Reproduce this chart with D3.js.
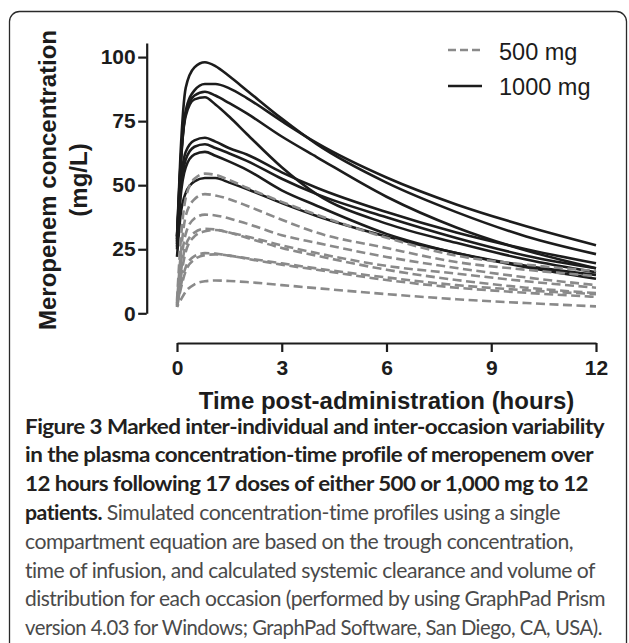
<!DOCTYPE html>
<html>
<head>
<meta charset="utf-8">
<script src="https://cdn.jsdelivr.net/npm/d3@7"></script>
<style>
  html, body { margin: 0; padding: 0; background: #fff; }
  svg { display: block; }
</style>
</head>
<body>
<svg id="chart" width="629" height="643"></svg>
<script>
// ---------- data ----------
const times = [0, 0.1, 0.25, 0.5, 0.8, 1.1, 1.5, 2, 3, 4, 6, 8, 10, 12];

// 1000 mg occasions (solid black), concentration in mg/L at each time
const conc1000 = [
  [30, 62, 88, 96, 98, 96.5, 92.5, 87, 76, 66, 51, 39.5, 30, 23.1],
  [28, 56, 79, 87, 89.5, 89.5, 87.8, 84, 75, 66.5, 53, 42.5, 34, 26.6],
  [29, 58, 78, 85, 86.5, 85, 82, 78, 69, 61, 45.5, 33.5, 24.5, 17.6],
  [27, 57, 77, 83.5, 84.3, 81.5, 76.7, 70, 57, 46.5, 35, 27.5, 21, 16],
  [30, 50, 63, 67.5, 68.5, 67, 64.4, 62, 55, 49, 39.5, 31.5, 25, 19.5],
  [26, 47, 60, 65, 66, 64.5, 62.4, 59.5, 52.5, 46.5, 37.5, 29.4, 22.5, 17.6],
  [25, 45, 57, 62, 63, 61.5, 59.2, 56, 48, 42, 31, 23.5, 18, 13.5],
  [22, 38, 47, 51.5, 52.8, 52.8, 51, 48.5, 43, 38, 30, 23.5, 18.5, 15]
];

// 500 mg occasions (dashed grey)
const conc500 = [
  [5, 27, 45, 52.5, 54.5, 54, 52, 49, 43.5, 38.5, 29.5, 22.5, 19, 16.5],
  [4, 22, 38, 44.5, 46.5, 46, 44.5, 42, 36.5, 31.5, 25.5, 20, 17, 14.5],
  [3.5, 18, 31, 37, 38.5, 38.2, 37, 35, 30.5, 27.5, 22, 17.7, 14, 11],
  [3, 15, 26.5, 31.5, 33, 32.7, 31.5, 30, 26.5, 23.5, 18.5, 15.5, 12.5, 10],
  [3, 13, 24, 30, 32, 32.5, 31.5, 29.5, 25.5, 22.5, 17, 13, 10, 7.9],
  [2.5, 10, 18, 22.3, 23.5, 23.3, 22.5, 21.5, 19.5, 17.5, 14, 11, 9, 7.5],
  [2.5, 9, 16.5, 21, 22.7, 23, 22.5, 21.3, 19, 17, 13, 10, 8, 6.4],
  [2.5, 5, 8.5, 11.3, 12.5, 12.8, 12.6, 12.2, 11, 9.8, 7.5, 5.5, 4, 2.7]
];

const xTicks = [0, 3, 6, 9, 12];
const yTicks = [0, 25, 50, 75, 100];
const legendLabels = ["500 mg", "1000 mg"];
const xTitle = "Time post-administration (hours)";
const yTitle = ["Meropenem concentration", "(mg/L)"];
const captionLines = [
  [["Figure 3 Marked inter-individual and inter-occasion variability", true]],
  [["in the plasma concentration-time profile of meropenem over", true]],
  [["12 hours following 17 doses of either 500 or 1,000 mg to 12", true]],
  [["patients.", true], [" Simulated concentration-time profiles using a single", false]],
  [["compartment equation are based on the trough concentration,", false]],
  [["time of infusion, and calculated systemic clearance and volume of", false]],
  [["distribution for each occasion (performed by using GraphPad Prism", false]],
  [["version 4.03 for Windows; GraphPad Software, San Diego, CA, USA).", false]]
];
const captionWidths = [579, 568, 563, 535, 548, 570, 580, 577];

// ---------- drawing ----------
const svg = d3.select("#chart");
const INK = "#1c1c1c";
const GREY = "#8a8a8a";
const AX_FONT = "'Liberation Sans', Arial, Helvetica, sans-serif";
const CAP_FONT = "Lato, 'Noto Sans', sans-serif";

// frame
svg.append("rect")
  .attr("x", 9.5).attr("y", 11.5)
  .attr("width", 617).attr("height", 720)
  .attr("rx", 10).attr("ry", 10)
  .attr("fill", "none").attr("stroke", "#2a2a2a").attr("stroke-width", 1.3);

const x = d3.scaleLinear().domain([0, 12]).range([177, 596]);
const y = d3.scaleLinear().domain([0, 105.5]).range([313.3, 43]);

const line = d3.line()
  .x((d, i) => x(times[i]))
  .y(d => y(d))
  .curve(d3.curveMonotoneX);

// curves: 1000 mg solid black
svg.append("g").selectAll("path").data(conc1000).join("path")
  .attr("d", d => line(d))
  .attr("fill", "none").attr("stroke", INK)
  .attr("stroke-width", 2.6).attr("stroke-linejoin", "round");

// curves: 500 mg dashed grey
svg.append("g").selectAll("path").data(conc500).join("path")
  .attr("d", d => line(d))
  .attr("fill", "none").attr("stroke", GREY)
  .attr("stroke-width", 2.6)
  .attr("stroke-dasharray", "9,4.5")
  .attr("stroke-dashoffset", (d, i) => (i % 2 ? 6 : 0));

// y axis
const yAxis = svg.append("g")
  .attr("transform", "translate(146.7,0)")
  .call(d3.axisLeft(y).tickValues(yTicks).tickSize(8.5).tickSizeOuter(0).tickPadding(2.5));
// x axis
const xAxis = svg.append("g")
  .attr("transform", "translate(0,343)")
  .call(d3.axisBottom(x).tickValues(xTicks).tickSize(9).tickSizeOuter(0).tickPadding(8));

[yAxis, xAxis].forEach(g => {
  g.select(".domain").attr("stroke", INK).attr("stroke-width", 2.2);
  g.selectAll(".tick line").attr("stroke", INK).attr("stroke-width", 2.2);
  g.selectAll(".tick text")
    .attr("fill", INK)
    .style("font-family", AX_FONT)
    .style("font-weight", "bold")
    .style("font-size", "21px");
});

// axis titles
svg.append("text")
  .attr("x", 386.5).attr("y", 408.5)
  .attr("text-anchor", "middle")
  .attr("fill", INK)
  .style("font-family", AX_FONT).style("font-weight", "bold").style("font-size", "24px")
  .text(xTitle);

const yt = svg.append("g").attr("transform", "translate(0,180) rotate(-90)");
yt.selectAll("text").data(yTitle).join("text")
  .attr("x", 0)
  .attr("y", (d, i) => [55.5, 87][i])
  .attr("text-anchor", "middle")
  .attr("fill", INK)
  .style("font-family", AX_FONT).style("font-weight", "bold").style("font-size", "24px")
  .text(d => d);

// legend
const legend = svg.append("g");
legendLabels.forEach((lab, i) => {
  const ly = [50, 86][i];
  legend.append("line")
    .attr("x1", 448).attr("x2", 482).attr("y1", ly).attr("y2", ly)
    .attr("stroke", i === 0 ? GREY : INK)
    .attr("stroke-width", 2.6)
    .attr("stroke-dasharray", i === 0 ? "8,4" : null);
  legend.append("text")
    .attr("x", 499).attr("y", [60, 95][i])
    .attr("fill", INK)
    .style("font-family", AX_FONT).style("font-size", "23.5px")
    .text(lab);
});

// caption
const cap = svg.append("g");
captionLines.forEach((parts, i) => {
  const t = cap.append("text")
    .attr("x", 25).attr("y", 433.5 + i * 28.8)
    .attr("textLength", captionWidths[i])
    .attr("lengthAdjust", "spacingAndGlyphs")
    .style("font-family", CAP_FONT).style("font-size", "20.5px")
    .style("letter-spacing", "-0.5px");
  parts.forEach(([s, bold]) => {
    t.append("tspan")
      .attr("fill", bold ? "#231f20" : "#4a4a4a")
      .style("font-weight", bold ? "700" : "400")
      .text(s);
  });
});
</script>
</body>
</html>
